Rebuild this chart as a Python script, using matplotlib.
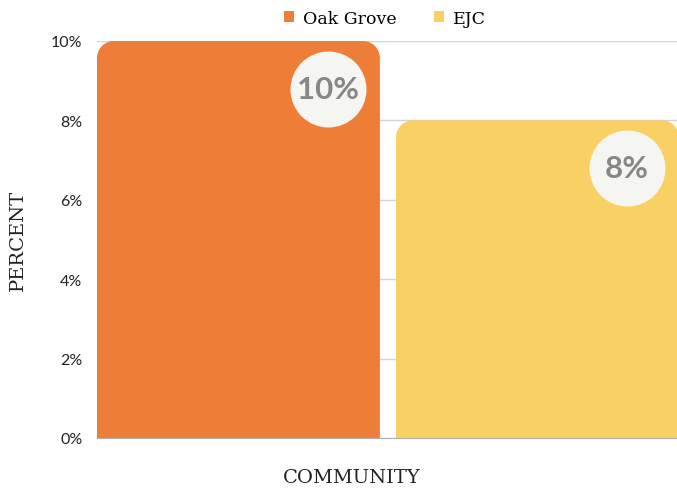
import matplotlib
matplotlib.use("Agg")
import matplotlib.pyplot as plt
from matplotlib.path import Path
from matplotlib.patches import PathPatch, Patch
from matplotlib.transforms import offset_copy

communities = ["Oak Grove", "EJC"]
percent = [10, 8]
colors = ["#ED7D37", "#F9D063"]
yticks = [0, 2, 4, 6, 8, 10]
ytick_labels = ["0%", "2%", "4%", "6%", "8%", "10%"]

W, H, DPI = 6.77, 4.89, 100
fig = plt.figure(figsize=(W, H), dpi=DPI)
ax = fig.add_axes([97/677, (489-439)/489, (677-97)/677, (439-42)/489])

x = list(range(len(communities)))
bars = ax.bar(x, percent, width=0.946, color=colors)
ax.set_xlim(-0.473, 1.4666)
ax.set_ylim(0, 10)
ax.set_yticks(yticks)
ax.set_yticklabels(ytick_labels, fontfamily="Lato", fontsize=11.5, color="#222222")
ax.set_xticks([])
ax.tick_params(axis="y", length=0, pad=10.5)
ax.grid(axis="y", color="#d4d4d4", linewidth=1)
ax.set_axisbelow(True)
for s in ["top", "right", "left"]:
    ax.spines[s].set_visible(False)
ax.spines["bottom"].set_color("#b0b0b0")
ax.spines["bottom"].set_zorder(5)

fig.canvas.draw()
p0 = ax.transData.transform((0, 0))
p1 = ax.transData.transform((1, 1))
px_x = p1[0] - p0[0]
px_y = p1[1] - p0[1]
r_px = 17
k = 0.5523

for rect, c in zip(bars, colors):
    x0 = rect.get_x(); x1 = x0 + rect.get_width()
    y0 = rect.get_y(); y1 = y0 + rect.get_height()
    rx = r_px / px_x; ry = r_px / px_y
    verts = [(x0, y0), (x0, y1 - ry),
             (x0, y1 - ry + k*ry), (x0 + rx - k*rx, y1), (x0 + rx, y1),
             (x1 - rx, y1),
             (x1 - rx + k*rx, y1), (x1, y1 - ry + k*ry), (x1, y1 - ry),
             (x1, y0), (x0, y0)]
    codes = [Path.MOVETO, Path.LINETO,
             Path.CURVE4, Path.CURVE4, Path.CURVE4,
             Path.LINETO,
             Path.CURVE4, Path.CURVE4, Path.CURVE4,
             Path.LINETO, Path.CLOSEPOLY]
    rect.set_visible(False)
    ax.add_patch(PathPatch(Path(verts, codes), facecolor=c, edgecolor="none", zorder=2, clip_on=False))

for rect, v in zip(bars, percent):
    xr = rect.get_x() + rect.get_width()
    top = rect.get_height()
    tr = offset_copy(ax.transData, fig=fig, x=-52, y=-48, units="dots")
    ax.plot([xr], [top], marker="o", markersize=76*72/DPI, color="#F5F5F1",
            markeredgewidth=0, transform=tr, zorder=4, clip_on=False)
    ax.text(xr, top, f"{v}%", transform=tr, ha="center", va="center",
            fontfamily="Lato", fontweight="bold", fontsize=22.5, color="#878787", zorder=5)

ax.set_ylabel("PERCENT", fontfamily="DejaVu Serif", fontsize=14, color="#222222", labelpad=17)
ax.text((352-97)/580, -0.097, "COMMUNITY", transform=ax.transAxes, ha="center", va="center",
        fontfamily="DejaVu Serif", fontsize=14, color="#222222")

handles = [Patch(facecolor=c, edgecolor="none") for c in colors]
fig.legend(handles, communities, loc="center", bbox_to_anchor=(385/677, 1 - 19/489),
           ncol=2, frameon=False, handlelength=0.58, handleheight=0.58,
           handletextpad=0.55, columnspacing=2.1,
           prop={"family": "DejaVu Serif", "size": 12.5})

fig.savefig("out.png", dpi=DPI)
